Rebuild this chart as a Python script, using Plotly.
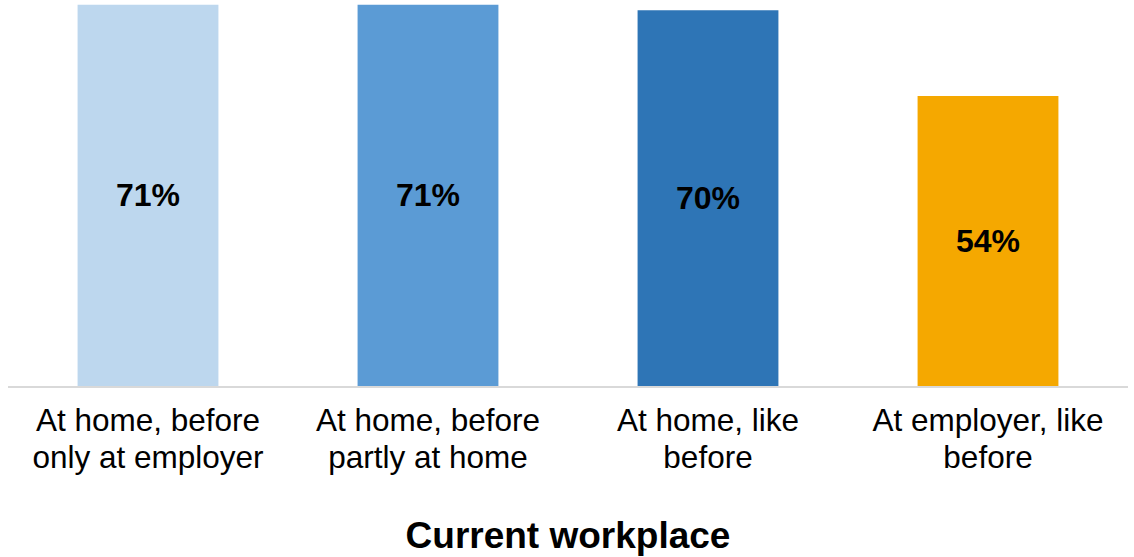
import plotly.graph_objects as go

categories = [
    "At home, before<br>only at employer",
    "At home, before<br>partly at home",
    "At home, like<br>before",
    "At employer, like<br>before",
]
values = [71, 71, 70, 54]
labels = ["71%", "71%", "70%", "54%"]
colors = ["#BDD7EE", "#5B9BD5", "#2E75B6", "#F5A800"]

FONT = "Liberation Sans, Arial, sans-serif"

# Split each category label into its two lines so the line gap can be set freely
first_lines = [c.split("<br>")[0] for c in categories]
second_lines = [c.split("<br>")[1] for c in categories]
positions = list(range(len(categories)))

fig = go.Figure()

fig.add_trace(
    go.Bar(
        x=positions,
        y=values,
        marker=dict(color=colors, line=dict(width=0)),
        text=labels,
        textposition="inside",
        insidetextanchor="middle",
        textangle=0,
        textfont=dict(family=FONT, size=32, color="black", weight="bold"),
        width=0.503,
        cliponaxis=False,
        hoverinfo="skip",
    )
)

# Empty helper trace so the second-line label axis gets drawn
fig.add_trace(
    go.Scatter(
        x=positions,
        y=[None] * len(positions),
        xaxis="x2",
        mode="markers",
        showlegend=False,
        hoverinfo="skip",
    )
)

fig.update_layout(
    width=1134,
    height=557,
    margin=dict(l=8, r=6, t=0, b=171),
    plot_bgcolor="white",
    paper_bgcolor="white",
    showlegend=False,
    uniformtext=dict(mode=False),
    xaxis=dict(
        type="linear",
        range=[-0.5, len(categories) - 0.5],
        tickmode="array",
        tickvals=positions,
        ticktext=first_lines,
        showline=True,
        linecolor="#D9D9D9",
        linewidth=2,
        showgrid=False,
        zeroline=False,
        ticks="",
        ticklabelstandoff=5,
        tickfont=dict(family=FONT, size=31.5, color="black"),
        title=dict(
            text="<b>Current workplace</b>",
            font=dict(family=FONT, size=37, color="black"),
            standoff=85,
        ),
    ),
    xaxis2=dict(
        type="linear",
        overlaying="x",
        anchor="y",
        side="bottom",
        range=[-0.5, len(categories) - 0.5],
        tickmode="array",
        tickvals=positions,
        ticktext=second_lines,
        showline=False,
        showgrid=False,
        zeroline=False,
        ticks="",
        ticklabelstandoff=49,
        tickfont=dict(family=FONT, size=31.5, color="black"),
    ),
    yaxis=dict(
        range=[0, 71.9],
        visible=False,
        showgrid=False,
        zeroline=False,
    ),
)

fig.write_html("out.html")
